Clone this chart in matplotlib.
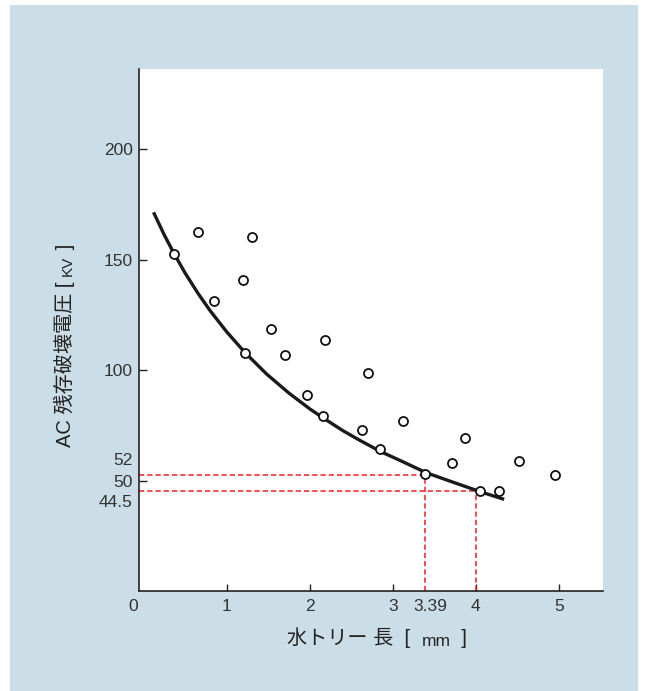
import matplotlib.pyplot as plt
from matplotlib.patches import Rectangle

plt.rcParams["font.family"] = ["Liberation Sans", "Noto Sans CJK JP"]

# measured points (water tree length [mm], residual AC breakdown voltage [kV])
tree_len = [0.37, 0.66, 1.30, 1.20, 0.85, 1.53, 2.18, 1.22, 1.70, 2.70, 1.97,
            2.16, 2.63, 2.85, 3.12, 3.87, 3.39, 3.71, 4.52, 4.95, 4.05, 4.28]
residual_kv = [152.7, 162.7, 160.4, 140.8, 131.4, 118.8, 113.8, 107.7, 107.0, 98.8, 88.7,
               79.2, 72.8, 64.4, 77.2, 69.1, 52.8, 57.9, 58.7, 52.4, 45.5, 45.5]

# trend curve
curve_x = [0.12, 0.25, 0.37, 0.50, 0.65, 0.80, 1.00, 1.22, 1.48, 1.75, 2.00,
           2.16, 2.40, 2.60, 2.85, 3.10, 3.40, 3.70, 4.05, 4.34]
curve_y = [171.5, 161.2, 152.6, 144.0, 135.1, 127.0, 117.4, 108.0, 98.3, 89.6, 82.5,
           78.4, 72.6, 68.3, 63.2, 58.9, 53.6, 49.6, 45.0, 41.5]

# red guide lines
guide_x = [3.39, 4.0]
guide_y = [52.6, 45.1]

x_ticks = [1, 2, 3, 4, 5]
y_ticks = [50, 100, 150, 200]

XLIM = (-0.055, 5.53)
YLIM = (0, 236.4)
BG = "#cbdde6"
RED = "#ee1c25"
DARK = "#222222"
TICK_PAD = 5.5
YTICK_PAD = 4.5
TICK_SIZE = 12.5

fig = plt.figure(figsize=(6.45, 6.91), dpi=100)
fig.add_artist(Rectangle((10 / 645, 0), 628 / 645, 686 / 691,
                         transform=fig.transFigure, facecolor=BG,
                         edgecolor="none", zorder=-5))
ax = fig.add_axes([139 / 645, 100 / 691, 464 / 645, 522 / 691])
ax.set_facecolor("white")

for gx, gy in zip(guide_x, guide_y):
    ax.hlines(gy, XLIM[0], gx, colors=RED, linewidth=1.1,
              linestyles=(0, (3.4, 2.0)), zorder=2)
    ax.vlines(gx, 0, gy, colors=RED, linewidth=1.1,
              linestyles=(0, (3.4, 2.0)), zorder=2)

ax.plot(curve_x, curve_y, color="#1a1a1a", linewidth=2.4,
        solid_joinstyle="round", solid_capstyle="butt", zorder=3)
ax.plot(tree_len, residual_kv, "o", markersize=6.5, markerfacecolor="white",
        markeredgecolor="#111111", markeredgewidth=1.3, zorder=4)

ax.set_xlim(*XLIM)
ax.set_ylim(*YLIM)
ax.set_xticks(x_ticks)
ax.set_yticks(y_ticks)
ax.set_xticklabels([str(t) for t in x_ticks])
ax.set_yticklabels([str(t) for t in y_ticks])

for side in ["top", "right"]:
    ax.spines[side].set_visible(False)
for side in ["left", "bottom"]:
    ax.spines[side].set_color(DARK)
    ax.spines[side].set_linewidth(1.2)

ax.tick_params(axis="x", direction="in", length=5, width=1, color=DARK,
               labelcolor="#333333", labelsize=TICK_SIZE, pad=TICK_PAD)
ax.tick_params(axis="y", direction="in", length=5.8, width=1, color=DARK,
               labelcolor="#333333", labelsize=TICK_SIZE, pad=YTICK_PAD)

# extra labels that have no tick mark
lab = dict(size=TICK_SIZE, color="#333333", annotation_clip=False)
ax.annotate("0", xy=(0, 0), xycoords="axes fraction", xytext=(-4.5, -TICK_PAD),
            textcoords="offset points", ha="center", va="top", **lab)
ax.annotate("3.39", xy=(guide_x[0], 0), xycoords=("data", "axes fraction"),
            xytext=(3.6, -TICK_PAD), textcoords="offset points",
            ha="center", va="top", **lab)
ax.annotate("52", xy=(0, guide_y[0]), xycoords=("axes fraction", "data"),
            xytext=(-YTICK_PAD, 11.5), textcoords="offset points",
            ha="right", va="center_baseline", **lab)
ax.annotate("44.5", xy=(0, guide_y[1]), xycoords=("axes fraction", "data"),
            xytext=(-YTICK_PAD, -7.2), textcoords="offset points",
            ha="right", va="center_baseline", **lab)


def chain_label(pieces, x, y, vertical):
    # lay out text pieces of different sizes one after another
    prev = None
    for text, size in pieces:
        if prev is None:
            if vertical:
                prev = fig.text(x, y, text, size=size, rotation=90,
                                ha="right", va="bottom", color=DARK)
            else:
                prev = fig.text(x, y, text, size=size,
                                ha="left", va="baseline", color=DARK)
        elif vertical:
            prev = ax.annotate(text, xy=(1, 1), xycoords=prev, size=size,
                               rotation=90, ha="right", va="bottom",
                               color=DARK, annotation_clip=False)
        else:
            prev = ax.annotate(text, xy=(1, 0), xycoords=prev, size=size,
                               ha="left", va="bottom",
                               color=DARK, annotation_clip=False)


chain_label([("水トリー 長  [  ", 14.5), ("mm", 12.5), ("  ]", 14.5)],
            287 / 645, 46.5 / 691, vertical=False)
chain_label([("AC 残存破壊電圧 [ ", 14.5), ("KV", 11), (" ]", 14.5)],
            75 / 645, 244.3 / 691, vertical=True)

fig.savefig("out.png", dpi=100)
